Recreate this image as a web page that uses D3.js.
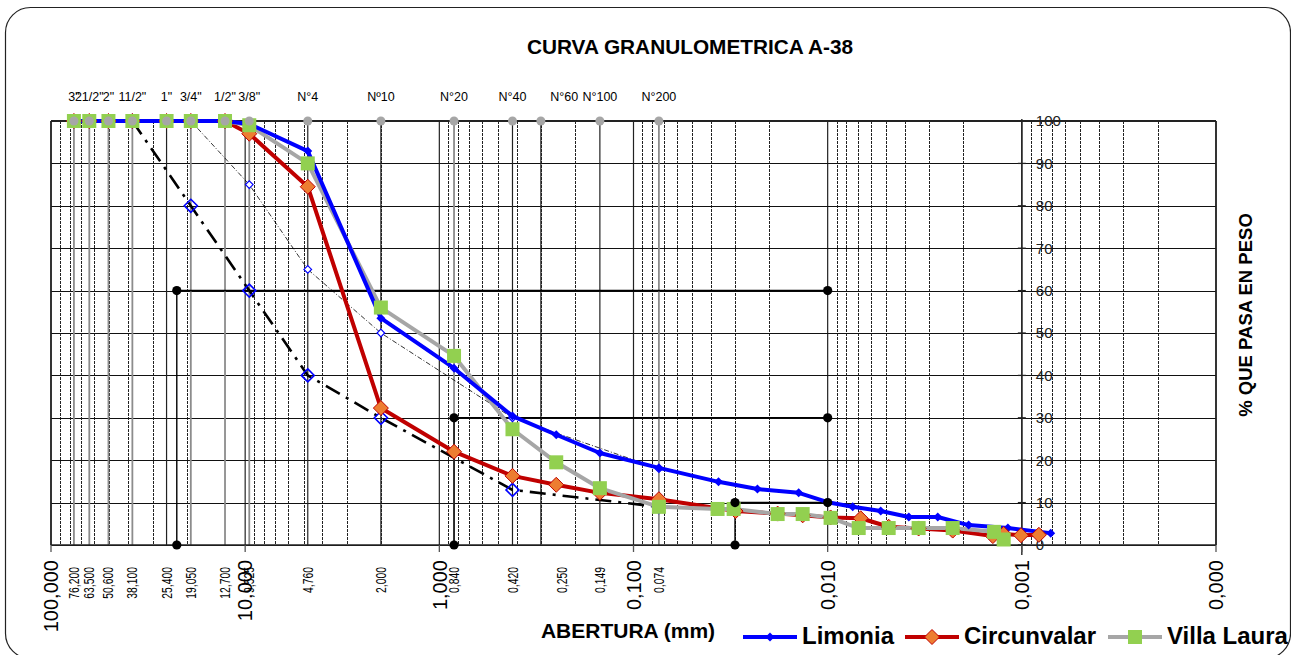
<!DOCTYPE html>
<html>
<head>
<meta charset="utf-8">
<script src="https://cdn.jsdelivr.net/npm/d3@7"></script>
<style>
  body { margin: 0; background: #fff; }
  svg { display: block; font-family: "Liberation Sans", Arial, sans-serif; }
</style>
</head>
<body>
<svg id="chart" width="1291" height="655"></svg>
<script>
// Sieve sizes (mm) and their names
const sieveMm = [76.2, 63.5, 50.6, 38.1, 25.4, 19.05, 12.7, 9.525, 4.76, 2.0, 0.84, 0.42, 0.25, 0.149, 0.074];
const sieveNames = ['3"', '21/2"', '2"', '11/2"', '1"', '3/4"', '1/2"', '3/8"', 'N°4', 'Nº10', 'N°20', 'N°40', 'N°60', 'N°100', 'N°200'];
// grey sieve markers on the 100 line (N°60 mark sits at 0.30 in the original)
const sieveMarkMm = [76.2, 63.5, 50.6, 38.1, 25.4, 19.05, 12.7, 9.525, 4.76, 2.0, 0.84, 0.42, 0.30, 0.149, 0.074];
const sieveMarkDark = [false, false, false, false, true, false, false, false, true, true, false, true, true, true, false];

// Limonia
const limoniaMm = [76.2, 63.5, 50.6, 38.1, 25.4, 19.05, 12.7, 9.525, 4.76, 2.0, 0.84, 0.42, 0.25, 0.149, 0.074,
  0.0365, 0.0230, 0.0141, 0.0100, 0.00743, 0.00533, 0.00382, 0.00271, 0.00188, 0.00118, 0.00071];
const limoniaPct = [100, 100, 100, 100, 100, 100, 100, 99.3, 92.9, 53.5, 41.7, 30.4, 26.0, 21.7, 18.2,
  14.9, 13.2, 12.3, 10.1, 9.0, 8.0, 6.6, 6.6, 4.7, 4.0, 2.8];

// Circunvalar
const circunMm = [76.2, 63.5, 50.6, 38.1, 25.4, 19.05, 12.7, 9.525, 4.76, 2.0, 0.84, 0.42, 0.25, 0.149, 0.074,
  0.0298, 0.0181, 0.01345, 0.00966, 0.00676, 0.00485, 0.0034, 0.00227, 0.00141, 0.00124, 0.00101, 0.000817];
const circunPct = [100, 100, 100, 100, 100, 100, 100, 97.0, 84.5, 32.3, 22.0, 16.3, 14.2, 12.3, 10.8,
  8.0, 7.4, 7.0, 6.5, 6.3, 4.3, 3.9, 3.4, 2.1, 2.6, 2.3, 2.4];

// Villa Laura
const villaMm = [76.2, 63.5, 50.6, 38.1, 25.4, 19.05, 12.7, 9.525, 4.76, 2.0, 0.84, 0.42, 0.25, 0.149, 0.074,
  0.0369, 0.0305, 0.0181, 0.01345, 0.00966, 0.00692, 0.00485, 0.0034, 0.00227, 0.00139, 0.00124];
const villaPct = [100, 100, 100, 100, 100, 100, 100, 99.0, 90.0, 56.0, 44.6, 27.3, 19.5, 13.4, 9.0,
  8.5, 8.5, 7.3, 7.3, 6.4, 4.0, 4.0, 4.0, 4.0, 3.1, 1.3];

// specification band
const lowerSpecMm = [38.1, 19.05, 9.525, 4.76, 2.0, 0.42, 0.074];
const lowerSpecPct = [100, 80, 60, 40, 30, 13, 9];
const upperSpecMm = [19.05, 9.525, 4.76, 2.0, 0.42, 0.074];
const upperSpecPct = [100, 85, 65, 50, 30, 18];

// D60 / D30 / D10 markers
const dMm = [22.5, 0.84, 0.03];
const dPct = [60, 30, 10];
const dRefMm = 0.01;

const yTicks = [0, 10, 20, 30, 40, 50, 60, 70, 80, 90, 100];
const xMajor = [100, 10, 1, 0.1, 0.01, 0.001, 0.0001];

const svg = d3.select('#chart');
const x = d3.scaleLog().domain([100, 0.0001]).range([51, 1216]);
const y = d3.scaleLinear().domain([0, 100]).range([545, 121]);
const fmt = v => d3.format('.3f')(v).replace('.', ',');

// chart border
svg.append('rect')
  .attr('x', 5.5).attr('y', 7.5).attr('width', 1285).attr('height', 651)
  .attr('rx', 25).attr('fill', '#fff').attr('stroke', '#222').attr('stroke-width', 1.2);

const grid = svg.append('g');

// minor log gridlines (dashed)
const minor = [];
for (let k = -4; k <= 1; k++) {
  for (let m = 2; m <= 9; m++) minor.push(m * Math.pow(10, k));
}
grid.selectAll('line.minor').data(minor).enter().append('line')
  .attr('x1', d => Math.round(x(d)) + 0.5).attr('x2', d => Math.round(x(d)) + 0.5)
  .attr('y1', y(100)).attr('y2', y(0))
  .attr('stroke', '#222').attr('stroke-width', 1).attr('stroke-dasharray', '3,1');

// major decade lines
grid.selectAll('line.major').data(xMajor).enter().append('line')
  .attr('x1', d => x(d)).attr('x2', d => x(d))
  .attr('y1', y(100)).attr('y2', y(0))
  .attr('stroke', '#222').attr('stroke-width', 1.2);

// horizontal gridlines
grid.selectAll('line.h').data(yTicks).enter().append('line')
  .attr('x1', x(100)).attr('x2', x(0.0001))
  .attr('y1', d => Math.round(y(d)) + 0.5).attr('y2', d => Math.round(y(d)) + 0.5)
  .attr('stroke', '#111').attr('stroke-width', 1.2);

// sieve lines from the 100 line down
grid.selectAll('line.sieve').data(sieveMarkMm).enter().append('line')
  .attr('x1', d => x(d)).attr('x2', d => x(d))
  .attr('y1', y(100)).attr('y2', y(0))
  .attr('stroke', (d, i) => sieveMarkDark[i] ? '#222' : '#8c8c8c')
  .attr('stroke-width', (d, i) => sieveMarkDark[i] ? 1.2 : 1.8);

// D lines
const dg = svg.append('g');
dMm.forEach((d, i) => {
  dg.append('line')
    .attr('x1', x(d)).attr('x2', x(d)).attr('y1', y(dPct[i])).attr('y2', y(0))
    .attr('stroke', '#000').attr('stroke-width', 1.4);
  dg.append('line')
    .attr('x1', x(d)).attr('x2', x(dRefMm)).attr('y1', y(dPct[i])).attr('y2', y(dPct[i]))
    .attr('stroke', '#000').attr('stroke-width', 1.6);
});

// frame of plot
svg.append('line').attr('x1', x(100)).attr('x2', x(0.0001)).attr('y1', y(100)).attr('y2', y(100))
  .attr('stroke', '#222').attr('stroke-width', 2);
svg.append('line').attr('x1', x(100)).attr('x2', x(0.0001)).attr('y1', y(0)).attr('y2', y(0))
  .attr('stroke', '#222').attr('stroke-width', 1.6);
svg.append('line').attr('x1', x(100)).attr('x2', x(100)).attr('y1', y(100)).attr('y2', y(0))
  .attr('stroke', '#222').attr('stroke-width', 1.6);
svg.append('line').attr('x1', x(0.0001)).attr('x2', x(0.0001)).attr('y1', y(100)).attr('y2', y(0))
  .attr('stroke', '#222').attr('stroke-width', 1.6);

// y axis at 0,001
const yAxisX = x(0.001);
svg.append('line').attr('x1', yAxisX).attr('x2', yAxisX).attr('y1', y(100) - 2).attr('y2', y(0) + 10)
  .attr('stroke', '#222').attr('stroke-width', 1.4);
svg.selectAll('line.yt').data(yTicks).enter().append('line')
  .attr('x1', yAxisX - 4).attr('x2', yAxisX + 4)
  .attr('y1', d => y(d)).attr('y2', d => y(d))
  .attr('stroke', '#222').attr('stroke-width', 1.3);
svg.selectAll('text.yt').data(yTicks).enter().append('text')
  .attr('x', yAxisX + 14).attr('y', d => y(d)).attr('dy', '0.36em')
  .attr('font-size', 15).attr('fill', '#222')
  .text(d => d);

// x ticks
svg.selectAll('line.xt').data(xMajor).enter().append('line')
  .attr('x1', d => x(d)).attr('x2', d => x(d))
  .attr('y1', y(0)).attr('y2', y(0) + 7)
  .attr('stroke', '#555').attr('stroke-width', 1.3);
svg.selectAll('text.xmaj').data(xMajor).enter().append('text')
  .attr('transform', d => `translate(${x(d)},560) rotate(-90)`)
  .attr('text-anchor', 'end').attr('dy', '0.36em')
  .attr('font-size', 20).attr('fill', '#000')
  .text(d => fmt(d));
svg.selectAll('text.xmin').data(sieveMm).enter().append('text')
  .attr('transform', d => `translate(${x(d) + (d === 0.25 ? 6 : 0)},567) rotate(-90) scale(0.74,1)`)
  .attr('text-anchor', 'end').attr('dy', '0.36em')
  .attr('font-size', 14).attr('fill', '#000')
  .text(d => fmt(d));

// top sieve names
svg.selectAll('text.sn').data(sieveMm).enter().append('text')
  .attr('x', d => x(d)).attr('dx', d => d === 0.25 ? 8 : 0).attr('y', 101)
  .attr('text-anchor', 'middle').attr('font-size', 12.5).attr('fill', '#000')
  .text((d, i) => sieveNames[i]);

const line = d3.line().x(d => x(d[0])).y(d => y(d[1]));
const zip = (a, b) => a.map((v, i) => [v, b[i]]);
const diamond = r => `M0,${-r}L${r},0L0,${r}L${-r},0Z`;

// specification band
const lowerSpec = zip(lowerSpecMm, lowerSpecPct);
const upperSpec = zip(upperSpecMm, upperSpecPct);
svg.append('path').datum(lowerSpec).attr('d', line)
  .attr('fill', 'none').attr('stroke', '#000').attr('stroke-width', 2.6)
  .attr('stroke-dasharray', '16,7,3,7');
svg.append('path').datum(upperSpec).attr('d', line)
  .attr('fill', 'none').attr('stroke', '#000').attr('stroke-width', 0.8)
  .attr('stroke-dasharray', '5,2,1,2');
svg.selectAll('path.ls').data(lowerSpec).enter().append('path')
  .attr('transform', d => `translate(${x(d[0])},${y(d[1])})`)
  .attr('d', diamond(6.5)).attr('fill', 'none').attr('stroke', '#0000FF').attr('stroke-width', 1.6);
svg.selectAll('path.us').data(upperSpec).enter().append('path')
  .attr('transform', d => `translate(${x(d[0])},${y(d[1])})`)
  .attr('d', diamond(3.8)).attr('fill', '#fff').attr('stroke', '#0000FF').attr('stroke-width', 1.2);

// series lines
const limonia = zip(limoniaMm, limoniaPct);
const circun = zip(circunMm, circunPct);
const villa = zip(villaMm, villaPct);

svg.append('path').datum(circun).attr('d', line)
  .attr('fill', 'none').attr('stroke', '#C00000').attr('stroke-width', 4).attr('stroke-linejoin', 'round');
svg.append('path').datum(villa).attr('d', line)
  .attr('fill', 'none').attr('stroke', '#A6A6A6').attr('stroke-width', 4).attr('stroke-linejoin', 'round');
svg.append('path').datum(limonia).attr('d', line)
  .attr('fill', 'none').attr('stroke', '#0000FF').attr('stroke-width', 4).attr('stroke-linejoin', 'round');

// markers
svg.selectAll('path.lm').data(limonia).enter().append('path')
  .attr('transform', d => `translate(${x(d[0])},${y(d[1])})`)
  .attr('d', diamond(4.5)).attr('fill', '#0000FF');
svg.selectAll('path.cm').data(circun).enter().append('path')
  .attr('transform', d => `translate(${x(d[0])},${y(d[1])})`)
  .attr('d', diamond(7.5)).attr('fill', '#ED7D31').attr('stroke', '#C00000').attr('stroke-width', 1);
svg.selectAll('rect.vm').data(villa).enter().append('rect')
  .attr('x', d => x(d[0]) - 7).attr('y', d => y(d[1]) - 7)
  .attr('width', 14).attr('height', 14).attr('fill', '#92D050');

// grey sieve circles on top
svg.selectAll('circle.sm').data(sieveMarkMm).enter().append('circle')
  .attr('cx', d => x(d)).attr('cy', y(100)).attr('r', 4.5).attr('fill', '#A6A6A6');

// D dots
const dDots = [];
dMm.forEach((d, i) => {
  dDots.push([d, dPct[i]], [d, 0], [dRefMm, dPct[i]]);
});
svg.selectAll('circle.dd').data(dDots).enter().append('circle')
  .attr('cx', d => x(d[0])).attr('cy', d => y(d[1])).attr('r', 4.6).attr('fill', '#000');

// titles
svg.append('text').attr('x', 690).attr('y', 54).attr('text-anchor', 'middle')
  .attr('font-size', 20.8).attr('font-weight', 'bold').text('CURVA GRANULOMETRICA A-38');
svg.append('text').attr('transform', 'translate(1252,315) rotate(-90)').attr('text-anchor', 'middle')
  .attr('font-size', 18.5).attr('font-weight', 'bold').text('% QUE PASA EN PESO');
svg.append('text').attr('x', 628).attr('y', 638).attr('text-anchor', 'middle')
  .attr('font-size', 21).attr('font-weight', 'bold').text('ABERTURA (mm)');

// legend
const legendItems = [
  { name: 'Limonia', x0: 743, color: '#0000FF', mark: 'small' },
  { name: 'Circunvalar', x0: 905, color: '#C00000', mark: 'diamond' },
  { name: 'Villa Laura', x0: 1108, color: '#A6A6A6', mark: 'square' }
];
legendItems.forEach(item => {
  const g = svg.append('g').attr('transform', `translate(${item.x0},637)`);
  g.append('line').attr('x1', 0).attr('x2', 54).attr('stroke', item.color).attr('stroke-width', 4);
  if (item.mark === 'small') {
    g.append('path').attr('transform', 'translate(27,0)').attr('d', diamond(4.5)).attr('fill', '#0000FF');
  } else if (item.mark === 'diamond') {
    g.append('path').attr('transform', 'translate(27,0)').attr('d', diamond(7.5))
      .attr('fill', '#ED7D31').attr('stroke', '#C00000');
  } else {
    g.append('rect').attr('x', 20).attr('y', -7).attr('width', 14).attr('height', 14).attr('fill', '#92D050');
  }
  g.append('text').attr('x', 59).attr('y', 7).attr('font-size', 24).attr('font-weight', 'bold')
    .text(item.name);
});
</script>
</body>
</html>
